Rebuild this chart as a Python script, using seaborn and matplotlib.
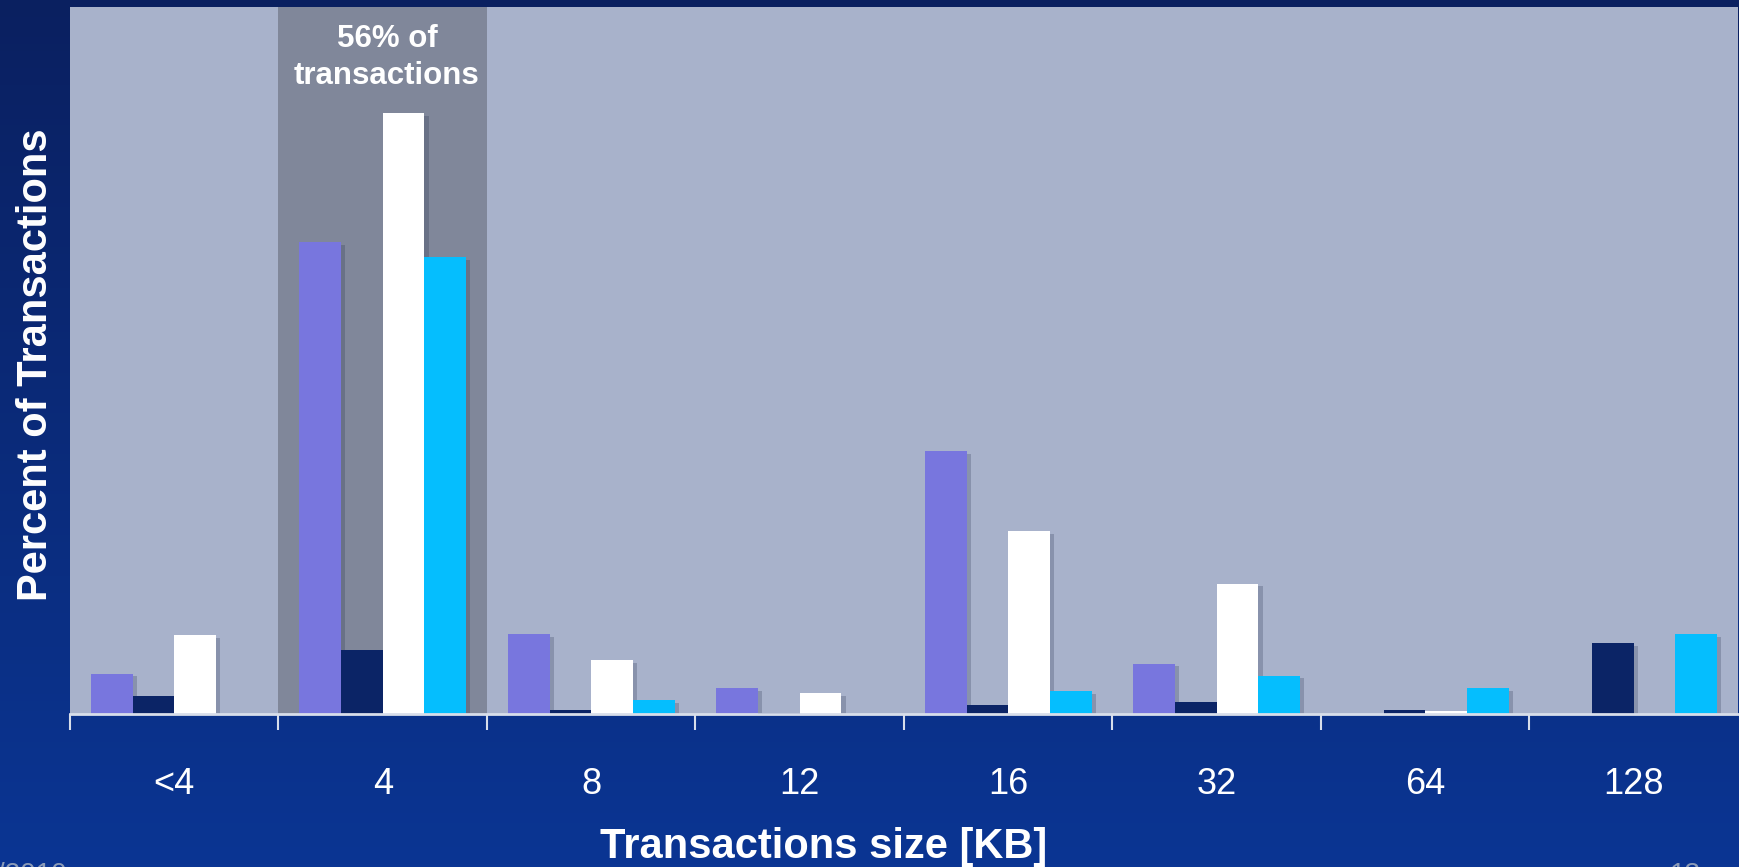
import numpy as np
import pandas as pd
import matplotlib
matplotlib.use("Agg")
import matplotlib.pyplot as plt
import matplotlib.patheffects as pe
from matplotlib.colors import LinearSegmentedColormap
import seaborn as sns

# Transaction size buckets (KB) and share of transactions per trace (%)
sizes = ["<4", "4", "8", "12", "16", "32", "64", "128"]
trace_names = ["trace 1", "trace 2", "trace 3", "trace 4"]
trace_1 = [4.0, 46.7, 7.9, 2.6, 26.0, 5.0, 0.0, 0.0]
trace_2 = [1.8, 6.3, 0.4, 0.1, 0.9, 1.2, 0.4, 7.0]
trace_3 = [7.8, 59.5, 5.3, 2.1, 18.1, 12.9, 0.3, 0.0]
trace_4 = [0.0, 45.2, 1.4, 0.0, 2.3, 3.8, 2.6, 7.9]
highlight_bucket = "4"
highlight_text = "56% of\ntransactions"

bar_colors = ["#7876DE", "#0B2466", "#FFFFFF", "#05BEFE"]

rows = []
for name, vals in zip(trace_names, [trace_1, trace_2, trace_3, trace_4]):
    for s, v in zip(sizes, vals):
        rows.append({"size": s, "pct": v, "trace": name})
df = pd.DataFrame(rows)

sns.set_theme(style="white")
plt.rcParams["font.family"] = ["Liberation Sans", "DejaVu Sans"]

fig = plt.figure(figsize=(17.4, 8.67), dpi=100)

# slide-style gradient backdrop
bg = fig.add_axes([0, 0, 1, 1], zorder=-10)
cmap = LinearSegmentedColormap.from_list("slide", ["#0A2060", "#0B3593"])
grad = np.linspace(0, 1, 256).reshape(-1, 1)
bg.imshow(grad, aspect="auto", cmap=cmap, extent=[0, 1, 0, 1], origin="upper")
bg.set_axis_off()

ax = fig.add_axes([70 / 1740, 1 - 714 / 867, 1668 / 1740, 707 / 867])
ax.set_zorder(1)
ax.set_facecolor("#A8B2CB")

hi = sizes.index(highlight_bucket)
ax.axvspan(hi - 0.5, hi + 0.5, color="#80879A", zorder=0.5, lw=0)

sns.barplot(data=df, x="size", y="pct", hue="trace", order=sizes,
            hue_order=trace_names, palette=bar_colors, saturation=1,
            width=0.8, linewidth=0, legend=False, ax=ax, zorder=2)

shadow = [pe.SimplePatchShadow(offset=(3, -2), shadow_rgbFace="#1A2340", alpha=0.22),
          pe.Normal()]
for cont in ax.containers:
    for bar in cont:
        bar.set_path_effects(shadow)

ax.set_xlim(-0.5, len(sizes) - 0.5)
ax.set_ylim(0, 70)
ax.set_yticks([])
ax.set_xlabel("")
ax.set_ylabel("")

ax.set_xticks(np.arange(-0.5, len(sizes) - 1, 1), minor=True)
ax.tick_params(axis="x", which="major", length=0, labelsize=26,
               labelcolor="white", pad=38)
ax.tick_params(axis="x", which="minor", length=11.5, width=1.5,
               color="#D8DEEA", direction="out", bottom=True)

for side in ["left", "top", "right"]:
    ax.spines[side].set_visible(False)
ax.spines["bottom"].set_color("#D8DEEA")
ax.spines["bottom"].set_linewidth(2)

ax.text(hi + 0.02, 0.928, highlight_text, transform=ax.get_xaxis_transform(),
        ha="center", va="center", fontsize=22.5, fontweight="bold",
        color="white", linespacing=1.3, zorder=5)

fig.text(824 / 1740, 1 - 847 / 867, "Transactions size [KB]", ha="center",
         va="center", fontsize=30, fontweight="bold", color="white")
fig.text(36 / 1740, 1 - 365 / 867, "Percent of Transactions", ha="center",
         va="center", rotation=90, fontsize=30, fontweight="bold", color="white")

# footer remnants at the slide's lower edge
fig.text(-0.002, -0.024, "/2010", ha="left", va="bottom", fontsize=20,
         color="#8C9CB8")
fig.text(1670 / 1740, -0.024, "13", ha="left", va="bottom", fontsize=20,
         color="#8C9CB8")

fig.savefig("out.png", dpi=100)
